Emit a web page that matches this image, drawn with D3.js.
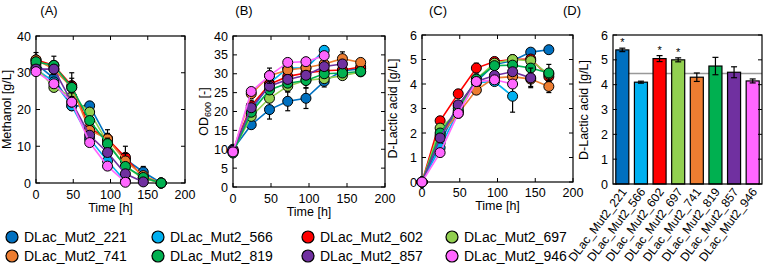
<!DOCTYPE html>
<html>
<head>
<meta charset="utf-8">
<script src="https://cdn.jsdelivr.net/npm/d3@7"></script>
<style>
  body { margin: 0; background: #fff; }
  svg { font-family: "Liberation Sans", Arial, sans-serif; }
</style>
</head>
<body>
<svg id="chart" width="764" height="275"></svg>
<script>
const strains = ["DLac_Mut2_221", "DLac_Mut2_566", "DLac_Mut2_602", "DLac_Mut2_697",
                 "DLac_Mut2_741", "DLac_Mut2_819", "DLac_Mut2_857", "DLac_Mut2_946"];
const colors = ["#0070C0", "#00B0F0", "#FF0000", "#92D050", "#ED7D31", "#00B050", "#7030A0", "#FF66FF"];
const time = [0, 24, 48, 72, 96, 120, 144, 168];

// (A) methanol [g/L]
const methanol = [
    [32.5, 28.5, 21, 21, 12, 6.5, 3, 0],
    [31, 27.5, 21, 12, 6, 0.5, null, null],
    [33.5, 32, 26.5, 15, 12, 7, 1.5, 0],
    [31.5, 26, 23.5, 19.3, 11, 4.5, 1.2, 0],
    [33.5, 31, 26, 14.3, 12, 6, 2, 0],
    [33, 32, 26, 17, 10.7, 4.5, 1.5, 0],
    [31, 31, 22, 13, 8.3, 2.5, 0.3, null],
    [30.3, 27, 22, 11, 4.6, 0.2, null, null]
];
const methanolErr = [
    [1, 1, 1, 1, 1, 1, 1.5, 0],
    [0.5, 1, 1, 1, 1, 0.5, null, null],
    [2, 2.5, 3.5, 1, 2.5, 3, 0.5, 0],
    [0.5, 1, 1, 1, 1, 1, 0.5, 0],
    [1, 1, 2.5, 1, 1.5, 2, 1, 0],
    [1, 1, 1.5, 1, 1.5, 1, 1, 0],
    [0.5, 1, 1, 1, 1, 1, 0.3, null],
    [0.5, 1, 1, 1, 1, 0.2, null, null]
];

// (B) OD600 [-]
const od = [
    [10, 16.5, 20.5, 22.7, 23.5, 28, 30.8, 31.3],
    [9.5, 20, 27.5, 31.5, 31.5, 36.2, null, null],
    [9.7, 21.5, 27.2, 29.3, 30.2, 30.8, 31, 31.8],
    [9.5, 18.7, 23.5, 26.7, 28.3, 28.7, 29.5, 30.5],
    [9.3, 24.7, 29.5, 31, 31.6, 32.6, 34, 33],
    [9, 19.8, 25.7, 27.5, 28.2, 30, 30.2, 30.6],
    [9.7, 21, 26.7, 28.5, 29.6, 31.9, 32.6, null],
    [9.3, 25.3, 29.5, 33, 33.2, 34.8, null, null]
];
const odErr = [
    [0.5, 1, 2.5, 2.5, 2.7, 1.5, 1, 0.5],
    [0.5, 1, 1, 1, 1, 0.5, null, null],
    [0.5, 1.5, 1, 1, 1, 1, 1, 0.5],
    [0.5, 1, 1, 1.5, 2, 1, 0.5, 0.5],
    [0.5, 1, 1, 1, 1, 1, 1.8, 0.5],
    [0.5, 1, 1, 1, 1, 1, 0.5, 0.5],
    [0.5, 1, 1, 1, 1, 1, 1, null],
    [0.5, 1, 2, 1, 1, 0.5, null, null]
];

// (C) D-lactic acid [g/L]
const lactic = [
    [0, 1.6, 3.1, 4.1, 4.8, 4.95, 5.3, 5.4],
    [0, 1.4, 2.9, 4.05, 4.1, 3.5, null, null],
    [0, 2.5, 3.6, 4.65, 4.92, 5.0, 5.02, 4.3],
    [0, 2.2, 2.85, 4.2, 4.85, 5.0, 4.95, 4.4],
    [0, 1.9, 2.8, 3.75, 4.25, 4.3, 4.2, 3.9],
    [0, 2.0, 3.0, 4.2, 4.75, 4.77, 4.65, 4.45],
    [0, 1.8, 3.15, 4.1, 4.35, 4.5, 4.25, null],
    [0, 1.2, 2.8, 4.1, 4.17, 4.0, null, null]
];
const lacticErr = [
    [0, 0.1, 0.1, 0.1, 0.1, 0.1, 0.1, 0.05],
    [0, 0.1, 0.1, 0.1, 0.1, 0.65, null, null],
    [0, 0.1, 0.1, 0.2, 0.1, 0.1, 0.1, 0.2],
    [0, 0.1, 0.1, 0.1, 0.1, 0.1, 0.1, 0.1],
    [0, 0.1, 0.1, 0.15, 0.15, 0.15, 0.3, 0.25],
    [0, 0.1, 0.1, 0.1, 0.1, 0.1, 0.15, 0.35],
    [0, 0.1, 0.1, 0.1, 0.1, 0.15, 0.4, null],
    [0, 0.1, 0.1, 0.1, 0.1, 0.1, null, null]
];

// (D) max D-lactic acid [g/L]
const maxLactic = [5.4, 4.1, 5.05, 5.0, 4.3, 4.75, 4.5, 4.15];
const maxLacticErr = [0.07, 0.04, 0.12, 0.08, 0.17, 0.35, 0.22, 0.08];
const significant = [true, false, true, true, false, false, false, false];
const refLevel = 4.45;

const svg = d3.select("#chart");

function frame(g, x, y, yTicks) {
    const [x0, x1] = x.range();
    const [y0, y1] = y.range();
    g.append("rect")
        .attr("x", x0).attr("y", y1)
        .attr("width", x1 - x0).attr("height", y0 - y1)
        .attr("fill", "none").attr("stroke", "#000").attr("stroke-width", 1.2);
    yTicks.forEach(t => {
        g.append("line").attr("x1", x0).attr("x2", x0 + 4).attr("y1", y(t)).attr("y2", y(t)).attr("stroke", "#000");
        g.append("line").attr("x1", x1).attr("x2", x1 - 4).attr("y1", y(t)).attr("y2", y(t)).attr("stroke", "#000");
        g.append("text")
            .attr("x", x0 - 5).attr("y", y(t) + 4.5)
            .attr("text-anchor", "end").attr("font-size", "12.5px")
            .text(t);
    });
}

function linePanel(cfg) {
    const g = svg.append("g");
    const x = d3.scaleLinear().domain([0, 200]).range([cfg.left, cfg.right]);
    const y = d3.scaleLinear().domain([0, cfg.ymax]).range([cfg.bottom, cfg.top]);
    const yTicks = d3.range(0, cfg.ymax + 0.001, cfg.ystep);
    frame(g, x, y, yTicks);

    [0, 50, 100, 150, 200].forEach(t => {
        g.append("line").attr("x1", x(t)).attr("x2", x(t)).attr("y1", cfg.bottom).attr("y2", cfg.bottom - 4).attr("stroke", "#000");
        g.append("line").attr("x1", x(t)).attr("x2", x(t)).attr("y1", cfg.top).attr("y2", cfg.top + 4).attr("stroke", "#000");
        g.append("text")
            .attr("x", x(t)).attr("y", cfg.bottom + cfg.tickGap)
            .attr("text-anchor", "middle").attr("font-size", "12.5px")
            .text(t);
    });

    g.append("text")
        .attr("x", (cfg.left + cfg.right) / 2).attr("y", cfg.bottom + cfg.tickGap + 13)
        .attr("text-anchor", "middle").attr("font-size", "12.5px")
        .text("Time [h]");

    const yl = g.append("text")
        .attr("transform", `translate(${cfg.left - 25}, ${(cfg.top + cfg.bottom) / 2}) rotate(-90)`)
        .attr("text-anchor", "middle").attr("font-size", "12.5px");
    cfg.ylabel(yl);

    g.append("text")
        .attr("x", cfg.titleX).attr("y", 15)
        .attr("text-anchor", "middle").attr("font-size", "13px")
        .text(cfg.title);

    const line = d3.line()
        .defined(d => d.v !== null)
        .x(d => x(d.t)).y(d => y(d.v));

    cfg.data.forEach((vals, i) => {
        const pts = vals.map((v, k) => ({ t: time[k], v: v, e: cfg.err[i][k] }));
        const sg = g.append("g");
        sg.append("path")
            .attr("d", line(pts))
            .attr("fill", "none").attr("stroke", colors[i]).attr("stroke-width", 1.6);
        const valid = pts.filter(d => d.v !== null);
        valid.filter(d => d.e > 0).forEach(d => {
            const ya = y(Math.min(cfg.ymax, d.v + d.e)), yb = y(Math.max(0, d.v - d.e));
            sg.append("line").attr("x1", x(d.t)).attr("x2", x(d.t)).attr("y1", ya).attr("y2", yb).attr("stroke", "#000").attr("stroke-width", 1.2);
            [ya, yb].forEach(yy => sg.append("line").attr("x1", x(d.t) - 2.5).attr("x2", x(d.t) + 2.5).attr("y1", yy).attr("y2", yy).attr("stroke", "#000").attr("stroke-width", 1.2));
        });
        sg.selectAll("circle")
            .data(valid)
            .join("circle")
            .attr("cx", d => x(d.t)).attr("cy", d => y(d.v))
            .attr("r", 5)
            .attr("fill", colors[i]).attr("stroke", "#000").attr("stroke-width", 1);
    });
}

linePanel({
    left: 36, right: 185, top: 36, bottom: 183, ymax: 40, ystep: 10, tickGap: 16,
    title: "(A)", titleX: 49, data: methanol, err: methanolErr,
    ylabel: t => t.text("Methanol [g/L]")
});

linePanel({
    left: 233, right: 385, top: 36, bottom: 187, ymax: 40, ystep: 5, tickGap: 16,
    title: "(B)", titleX: 244, data: od, err: odErr,
    ylabel: t => {
        t.append("tspan").text("OD");
        t.append("tspan").attr("font-size", "9px").attr("dy", 3).text("600");
        t.append("tspan").attr("dy", -3).text(" [-]");
    }
});

linePanel({
    left: 422, right: 573, top: 35, bottom: 182, ymax: 6, ystep: 1, tickGap: 15,
    title: "(C)", titleX: 438, data: lactic, err: lacticErr,
    ylabel: t => t.text("D-Lactic acid [g/L]")
});

// (D) bar chart
{
    const g = svg.append("g");
    const x = d3.scaleBand().domain(strains).range([613, 762]).paddingInner(0.3).paddingOuter(0.15);
    const y = d3.scaleLinear().domain([0, 6]).range([184, 35]);
    g.append("line")
        .attr("x1", 613).attr("x2", 762).attr("y1", y(refLevel)).attr("y2", y(refLevel))
        .attr("stroke", "#999").attr("stroke-width", 1.3);
    g.selectAll("rect.bar")
        .data(strains)
        .join("rect")
        .attr("class", "bar")
        .attr("x", d => x(d)).attr("y", (d, i) => y(maxLactic[i]))
        .attr("width", x.bandwidth()).attr("height", (d, i) => y(0) - y(maxLactic[i]))
        .attr("fill", (d, i) => colors[i]).attr("stroke", "#000").attr("stroke-width", 1.2);
    strains.forEach((s, i) => {
        const cx = x(s) + x.bandwidth() / 2;
        const ya = y(maxLactic[i] + maxLacticErr[i]), yb = y(maxLactic[i] - maxLacticErr[i]);
        g.append("line").attr("x1", cx).attr("x2", cx).attr("y1", ya).attr("y2", yb).attr("stroke", "#000").attr("stroke-width", 1.2);
        [ya, yb].forEach(yy => g.append("line").attr("x1", cx - 3).attr("x2", cx + 3).attr("y1", yy).attr("y2", yy).attr("stroke", "#000").attr("stroke-width", 1.2));
        if (significant[i]) {
            g.append("text").attr("x", cx).attr("y", ya - 2)
                .attr("text-anchor", "middle").attr("font-size", "11px").text("*");
        }
        g.append("text")
            .attr("transform", `translate(${cx + 5}, 192) rotate(-53)`)
            .attr("text-anchor", "end").attr("font-size", "12px")
            .text(s);
    });
    frame(g, d3.scaleLinear().range([613, 762]), y, d3.range(0, 7));
    g.append("text")
        .attr("transform", `translate(588, 110) rotate(-90)`)
        .attr("text-anchor", "middle").attr("font-size", "12.5px")
        .text("D-Lactic acid [g/L]");
    g.append("text").attr("x", 572).attr("y", 15)
        .attr("text-anchor", "middle").attr("font-size", "13px").text("(D)");
}

// legend
{
    const g = svg.append("g");
    const colX = [12, 158, 308, 452];
    strains.forEach((s, i) => {
        const cx = colX[i % 4], cy = i < 4 ? 237 : 256;
        g.append("circle").attr("cx", cx).attr("cy", cy).attr("r", 6)
            .attr("fill", colors[i]).attr("stroke", "#000").attr("stroke-width", 1.2);
        g.append("text").attr("x", cx + 12).attr("y", cy + 5)
            .attr("font-size", "14px").text(s);
    });
}
</script>
</body>
</html>
